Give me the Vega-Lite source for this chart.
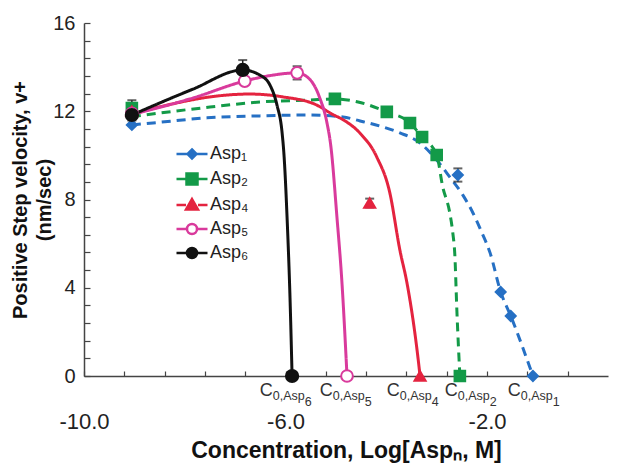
{
  "$schema": "https://vega.github.io/schema/vega-lite/v6.json",
  "width": 524,
  "height": 353,
  "autosize": "none",
  "padding": {"left": 84, "top": 23, "right": 9, "bottom": 92},
  "background": "white",
  "config": {"view": {"stroke": null}, "font": "Liberation Sans"},
  "datasets": {
    "pts": [
      {"series": "Asp₁", "x": -9.05, "y": 11.38},
      {"series": "Asp₁", "x": -2.58, "y": 9.11, "err": 0.3},
      {"series": "Asp₁", "x": -1.73, "y": 3.81},
      {"series": "Asp₁", "x": -1.53, "y": 2.72},
      {"series": "Asp₁", "x": -1.09, "y": 0},
      {"series": "Asp₂", "x": -9.05, "y": 12.15, "err": 0.35},
      {"series": "Asp₂", "x": -5.02, "y": 12.56},
      {"series": "Asp₂", "x": -3.99, "y": 11.97},
      {"series": "Asp₂", "x": -3.53, "y": 11.47},
      {"series": "Asp₂", "x": -3.29, "y": 10.83},
      {"series": "Asp₂", "x": -3.0, "y": 10.02},
      {"series": "Asp₂", "x": -2.54, "y": 0},
      {"series": "Asp₄", "x": -9.05, "y": 12.0},
      {"series": "Asp₄", "x": -4.33, "y": 7.84, "err": 0.2},
      {"series": "Asp₄", "x": -3.33, "y": 0},
      {"series": "Asp₅", "x": -9.05, "y": 11.9},
      {"series": "Asp₅", "x": -6.81, "y": 13.37},
      {"series": "Asp₅", "x": -5.77, "y": 13.74, "err": 0.3},
      {"series": "Asp₅", "x": -4.78, "y": 0},
      {"series": "Asp₆", "x": -9.05, "y": 11.83, "err": 0.25},
      {"series": "Asp₆", "x": -6.85, "y": 13.87, "err": 0.45},
      {"series": "Asp₆", "x": -5.87, "y": 0}
    ],
    "fit": [
      {"series": "Asp₁", "x": -9.05, "y": 11.38},
      {"series": "Asp₁", "x": -8.63, "y": 11.47},
      {"series": "Asp₁", "x": -7.56, "y": 11.7},
      {"series": "Asp₁", "x": -6.51, "y": 11.79},
      {"series": "Asp₁", "x": -5.52, "y": 11.83},
      {"series": "Asp₁", "x": -4.86, "y": 11.74},
      {"series": "Asp₁", "x": -4.52, "y": 11.56},
      {"series": "Asp₁", "x": -4.13, "y": 11.33},
      {"series": "Asp₁", "x": -3.73, "y": 11.02},
      {"series": "Asp₁", "x": -3.33, "y": 10.56},
      {"series": "Asp₁", "x": -3.0, "y": 9.79},
      {"series": "Asp₁", "x": -2.75, "y": 9.05},
      {"series": "Asp₁", "x": -2.48, "y": 8.2},
      {"series": "Asp₁", "x": -2.28, "y": 7.39},
      {"series": "Asp₁", "x": -2.1, "y": 6.48},
      {"series": "Asp₁", "x": -1.94, "y": 5.58},
      {"series": "Asp₁", "x": -1.73, "y": 3.81},
      {"series": "Asp₁", "x": -1.53, "y": 2.72},
      {"series": "Asp₁", "x": -1.09, "y": 0},
      {"series": "Asp₂", "x": -9.05, "y": 11.75},
      {"series": "Asp₂", "x": -8.49, "y": 11.92},
      {"series": "Asp₂", "x": -7.5, "y": 12.19},
      {"series": "Asp₂", "x": -6.51, "y": 12.42},
      {"series": "Asp₂", "x": -5.52, "y": 12.51},
      {"series": "Asp₂", "x": -5.02, "y": 12.56},
      {"series": "Asp₂", "x": -4.56, "y": 12.42},
      {"series": "Asp₂", "x": -3.99, "y": 11.97},
      {"series": "Asp₂", "x": -3.53, "y": 11.47},
      {"series": "Asp₂", "x": -3.29, "y": 10.83},
      {"series": "Asp₂", "x": -3.0, "y": 10.02},
      {"series": "Asp₂", "x": -2.88, "y": 8.57},
      {"series": "Asp₂", "x": -2.74, "y": 7.39},
      {"series": "Asp₂", "x": -2.68, "y": 6.48},
      {"series": "Asp₂", "x": -2.64, "y": 5.49},
      {"series": "Asp₂", "x": -2.6, "y": 3.0},
      {"series": "Asp₂", "x": -2.54, "y": 0},
      {"series": "Asp₄", "x": -9.05, "y": 11.85},
      {"series": "Asp₄", "x": -8.95, "y": 11.92},
      {"series": "Asp₄", "x": -8.15, "y": 12.38},
      {"series": "Asp₄", "x": -7.5, "y": 12.65},
      {"series": "Asp₄", "x": -6.71, "y": 12.78},
      {"series": "Asp₄", "x": -6.05, "y": 12.65},
      {"series": "Asp₄", "x": -5.38, "y": 12.28},
      {"series": "Asp₄", "x": -5.06, "y": 11.85},
      {"series": "Asp₄", "x": -4.86, "y": 11.62},
      {"series": "Asp₄", "x": -4.52, "y": 11.0},
      {"series": "Asp₄", "x": -4.19, "y": 9.93},
      {"series": "Asp₄", "x": -3.93, "y": 8.3},
      {"series": "Asp₄", "x": -3.73, "y": 5.7},
      {"series": "Asp₄", "x": -3.59, "y": 4.22},
      {"series": "Asp₄", "x": -3.39, "y": 1.18},
      {"series": "Asp₄", "x": -3.33, "y": 0},
      {"series": "Asp₅", "x": -9.05, "y": 11.85},
      {"series": "Asp₅", "x": -7.84, "y": 12.6},
      {"series": "Asp₅", "x": -6.81, "y": 13.37},
      {"series": "Asp₅", "x": -6.3, "y": 13.62},
      {"series": "Asp₅", "x": -5.77, "y": 13.74},
      {"series": "Asp₅", "x": -5.52, "y": 13.45},
      {"series": "Asp₅", "x": -5.32, "y": 12.6},
      {"series": "Asp₅", "x": -5.18, "y": 11.5},
      {"series": "Asp₅", "x": -5.1, "y": 10.4},
      {"series": "Asp₅", "x": -4.98, "y": 7.21},
      {"series": "Asp₅", "x": -4.88, "y": 4.22},
      {"series": "Asp₅", "x": -4.78, "y": 0},
      {"series": "Asp₆", "x": -9.05, "y": 11.83},
      {"series": "Asp₆", "x": -7.84, "y": 13.0},
      {"series": "Asp₆", "x": -6.85, "y": 13.87},
      {"series": "Asp₆", "x": -6.51, "y": 13.64},
      {"series": "Asp₆", "x": -6.31, "y": 13.19},
      {"series": "Asp₆", "x": -6.17, "y": 12.28},
      {"series": "Asp₆", "x": -6.07, "y": 11.06},
      {"series": "Asp₆", "x": -6.03, "y": 10.0},
      {"series": "Asp₆", "x": -5.97, "y": 7.21},
      {"series": "Asp₆", "x": -5.91, "y": 3.45},
      {"series": "Asp₆", "x": -5.87, "y": 0}
    ],
    "lab": [
      {"series": "Asp₆", "lx": -6.51, "n": "6"},
      {"series": "Asp₅", "lx": -5.32, "n": "5"},
      {"series": "Asp₄", "lx": -3.99, "n": "4"},
      {"series": "Asp₂", "lx": -2.84, "n": "2"},
      {"series": "Asp₁", "lx": -1.59, "n": "1"}
    ]
  },
  "resolve": {"scale": {"shape": "independent", "fill": "independent", "stroke": "independent", "size": "independent"}},
  "layer": [
    {
      "data": {"name": "fit"},
      "mark": {"type": "line", "interpolate": "monotone", "strokeWidth": 3},
      "encoding": {
        "x": {
          "field": "x", "type": "quantitative",
          "title": "Concentration, Log[Aspₙ, M]",
          "scale": {"domain": [-10, 0.4], "nice": false, "zero": false},
          "axis": {
            "values": [-10, -9.2, -8.4, -7.6, -6.8, -6, -5.2, -4.4, -3.6, -2.8, -2, -1.2, -0.4],
            "tickCount": 100,
            "labelExpr": "(abs(datum.value+10)<0.01 || abs(datum.value+6)<0.01 || abs(datum.value+2)<0.01) ? '-' + format(abs(datum.value), '.1f') : ''",
            "grid": false, "tickSize": -5, "tickColor": "#444", "tickWidth": 1.2,
            "domainColor": "#444", "domainWidth": 1.5, "labelOverlap": false,
            "labelFontSize": 22, "labelColor": "#222", "labelPadding": 40, "labelFlush": false,
            "titleFontSize": 23, "titleFontWeight": "bold", "titleColor": "#111", "titlePadding": 7
          }
        },
        "y": {
          "field": "y", "type": "quantitative",
          "title": ["Positive Step velocity, v+", "(nm/sec)"],
          "scale": {"domain": [0, 16], "nice": false},
          "axis": {
            "values": [0, 0.8, 1.6, 2.4, 3.2, 4, 4.8, 5.6, 6.4, 7.2, 8, 8.8, 9.6, 10.4, 11.2, 12, 12.8, 13.6, 14.4, 15.2, 16],
            "tickCount": 100,
            "labelExpr": "(datum.value==0 || datum.value==4 || datum.value==8 || datum.value==12 || datum.value==16) ? format(datum.value, 'd') : ''",
            "grid": false, "tickSize": -6, "tickColor": "#444", "tickWidth": 1.2,
            "domainColor": "#444", "domainWidth": 1.5, "labelOverlap": false,
            "labelFontSize": 20, "labelColor": "#222", "labelPadding": 15, "labelFlush": false,
            "titleFontSize": 20, "titleFontWeight": "bold", "titleColor": "#111", "titleLineHeight": 24, "titlePadding": -2
          }
        },
        "stroke": {
          "field": "series", "type": "nominal",
          "scale": {"domain": ["Asp₁", "Asp₂", "Asp₄", "Asp₅", "Asp₆"], "range": ["#2670c4", "#139a48", "#e4233f", "#d93a9c", "#111111"]},
          "legend": null
        },
        "strokeDash": {
          "condition": {"test": "datum.series==='Asp₁' || datum.series==='Asp₂'", "value": [9, 6]},
          "value": [1, 0]
        },
        "strokeWidth": {
          "condition": {"test": "datum.series==='Asp₆'", "value": 2.5},
          "value": 3
        }
      }
    },
    {
      "data": {"name": "pts"},
      "transform": [{"filter": "datum.err > 0"}],
      "mark": {"type": "errorbar", "ticks": {"size": 9, "thickness": 2}, "thickness": 1.5, "color": "#222"},
      "encoding": {
        "x": {"field": "x", "type": "quantitative", "title": "Concentration, Log[Aspₙ, M]"},
        "y": {"field": "y", "type": "quantitative", "title": ["Positive Step velocity, v+", "(nm/sec)"]},
        "yError": {"field": "err"}
      }
    },
    {
      "data": {"name": "pts"},
      "mark": {"type": "point", "filled": false, "opacity": 1, "strokeWidth": 2},
      "encoding": {
        "x": {"field": "x", "type": "quantitative", "title": "Concentration, Log[Aspₙ, M]"},
        "y": {"field": "y", "type": "quantitative", "title": ["Positive Step velocity, v+", "(nm/sec)"]},
        "shape": {
          "field": "series", "type": "nominal",
          "scale": {"domain": ["Asp₁", "Asp₂", "Asp₄", "Asp₅", "Asp₆"], "range": ["diamond", "square", "triangle-up", "circle", "circle"]},
          "legend": null
        },
        "fill": {
          "field": "series", "type": "nominal",
          "scale": {"domain": ["Asp₁", "Asp₂", "Asp₄", "Asp₅", "Asp₆"], "range": ["#2670c4", "#139a48", "#e4233f", "#ffffff", "#111111"]},
          "legend": null
        },
        "stroke": {
          "field": "series", "type": "nominal",
          "scale": {"domain": ["Asp₁", "Asp₂", "Asp₄", "Asp₅", "Asp₆"], "range": ["#2670c4", "#139a48", "#e4233f", "#d93a9c", "#111111"]},
          "legend": null
        },
        "size": {
          "field": "series", "type": "nominal",
          "scale": {"domain": ["Asp₁", "Asp₂", "Asp₄", "Asp₅", "Asp₆"], "range": [100, 150, 130, 100, 150]},
          "legend": null
        }
      }
    },
    {
      "data": {"name": "pts"},
      "transform": [{"filter": "datum.x > 100"}],
      "mark": {"type": "point", "filled": false, "strokeWidth": 2.5},
      "encoding": {
        "x": {"field": "x", "type": "quantitative", "title": "Concentration, Log[Aspₙ, M]"},
        "y": {"field": "y", "type": "quantitative", "title": ["Positive Step velocity, v+", "(nm/sec)"]},
        "shape": {
          "field": "series", "type": "nominal",
          "scale": {"domain": ["Asp₁", "Asp₂", "Asp₄", "Asp₅", "Asp₆"], "range": [
            "M-3.1,0H-0.9M0.9,0H3.1M0,-0.9L0.9,0L0,0.9L-0.9,0Z",
            "M-3.1,0H-1.1M1.1,0H3.1M-1.1,-1.1H1.1V1.1H-1.1Z",
            "M-3.1,0H-1.2M1.2,0H3.1M0,-1.2L1.2,0.9L-1.2,0.9Z",
            "M-3.1,0H-1M1,0H3.1M-1,0A1,1 0 1,0 1,0A1,1 0 1,0 -1,0Z",
            "M-3.1,0H-1M1,0H3.1M-1,0A1,1 0 1,0 1,0A1,1 0 1,0 -1,0Z"
          ]},
          "legend": {
            "orient": "none", "legendX": 99, "legendY": 122, "title": null, "padding": 0,
            "labelFontSize": 18, "labelColor": "#222", "labelOffset": 9, "rowPadding": 4,
            "symbolSize": 100, "symbolStrokeWidth": 2.5, "symbolOpacity": 1
          }
        },
        "fill": {
          "field": "series", "type": "nominal",
          "scale": {"domain": ["Asp₁", "Asp₂", "Asp₄", "Asp₅", "Asp₆"], "range": ["#2670c4", "#139a48", "#e4233f", "#ffffff", "#111111"]},
          "legend": {
            "orient": "none", "legendX": 99, "legendY": 122, "title": null, "padding": 0,
            "labelFontSize": 18, "labelColor": "#222", "labelOffset": 9, "rowPadding": 4,
            "symbolSize": 100, "symbolStrokeWidth": 2.5, "symbolOpacity": 1
          }
        },
        "stroke": {
          "field": "series", "type": "nominal",
          "scale": {"domain": ["Asp₁", "Asp₂", "Asp₄", "Asp₅", "Asp₆"], "range": ["#2670c4", "#139a48", "#e4233f", "#d93a9c", "#111111"]},
          "legend": {
            "orient": "none", "legendX": 99, "legendY": 122, "title": null, "padding": 0,
            "labelFontSize": 18, "labelColor": "#222", "labelOffset": 9, "rowPadding": 4,
            "symbolSize": 100, "symbolStrokeWidth": 2.5, "symbolOpacity": 1
          }
        }
      }
    },
    {
      "data": {"name": "lab"},
      "mark": {"type": "text", "align": "left", "baseline": "alphabetic", "fontSize": 18, "dy": 20, "color": "#333"},
      "encoding": {
        "x": {"field": "lx", "type": "quantitative", "title": "Concentration, Log[Aspₙ, M]"},
        "y": {"datum": 0, "type": "quantitative", "title": ["Positive Step velocity, v+", "(nm/sec)"]},
        "text": {"value": "C"}
      }
    },
    {
      "data": {"name": "lab"},
      "mark": {"type": "text", "align": "left", "baseline": "alphabetic", "fontSize": 12.5, "dx": 13, "dy": 24, "color": "#333"},
      "encoding": {
        "x": {"field": "lx", "type": "quantitative", "title": "Concentration, Log[Aspₙ, M]"},
        "y": {"datum": 0, "type": "quantitative", "title": ["Positive Step velocity, v+", "(nm/sec)"]},
        "text": {"value": "0,Asp"}
      }
    },
    {
      "data": {"name": "lab"},
      "mark": {"type": "text", "align": "left", "baseline": "alphabetic", "fontSize": 12.5, "dx": 45, "dy": 30, "color": "#333"},
      "encoding": {
        "x": {"field": "lx", "type": "quantitative", "title": "Concentration, Log[Aspₙ, M]"},
        "y": {"datum": 0, "type": "quantitative", "title": ["Positive Step velocity, v+", "(nm/sec)"]},
        "text": {"field": "n"}
      }
    }
  ]
}
